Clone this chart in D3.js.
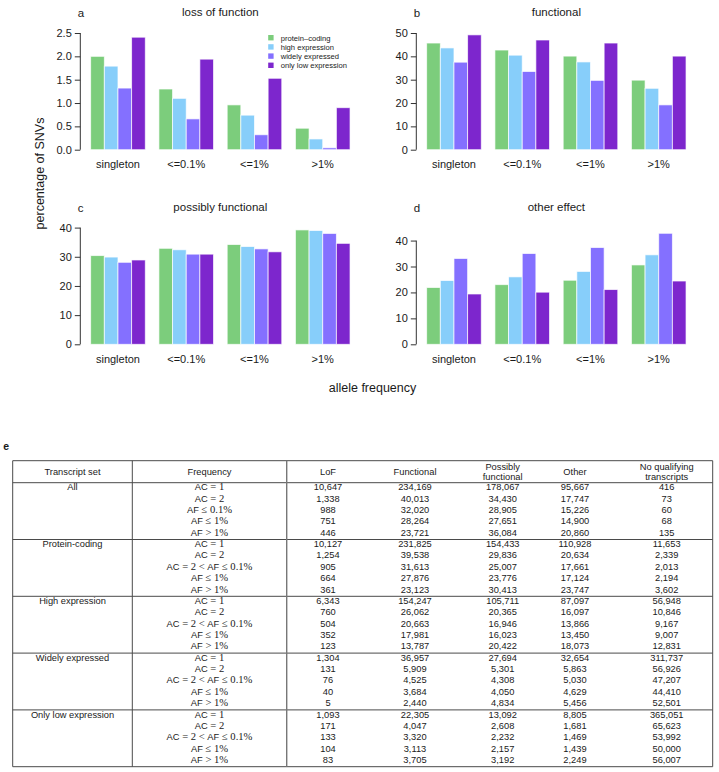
<!DOCTYPE html>
<html>
<head>
<meta charset="utf-8">
<script src="https://cdn.jsdelivr.net/npm/d3@7"></script>
<style>
  html, body { margin: 0; padding: 0; background: #fff; }
  svg { display: block; }
  text { font-family: "Liberation Sans", Arial, Helvetica, sans-serif; fill: #1a1a1a; }
</style>
</head>
<body>
<svg id="chart" width="719" height="772"></svg>
<script>
// ---------------- DATA ----------------
const categories = ["singleton", "<=0.1%", "<=1%", ">1%"];
const seriesNames = ["protein\u2013coding", "high expression", "widely expressed", "only low expression"];
const seriesColors = ["#7CCD7C", "#87CEFA", "#8470FF", "#7D26CD"];

// rows = categories, columns = series (percentage of SNVs)
const lossOfFunction = [
  [2.00, 1.79, 1.32, 2.41],
  [1.30, 1.10, 0.66, 1.94],
  [0.96, 0.74, 0.32, 1.53],
  [0.46, 0.23, 0.04, 0.90]
];
const functional = [
  [45.7, 43.6, 37.5, 49.2],
  [42.7, 40.5, 33.5, 47.0],
  [40.1, 37.6, 29.7, 45.7],
  [29.8, 26.3, 19.2, 40.1]
];
const possiblyFunctional = [
  [30.4, 29.9, 28.1, 28.9],
  [32.9, 32.4, 30.9, 30.9],
  [34.2, 33.5, 32.7, 31.7],
  [39.2, 39.0, 38.0, 34.6]
];
const otherEffect = [
  [21.9, 24.6, 33.1, 19.4],
  [23.0, 26.0, 35.0, 20.1],
  [24.7, 28.1, 37.3, 21.1],
  [30.6, 34.5, 42.8, 24.4]
];

const panelTitles = ["loss of function", "functional", "possibly functional", "other effect"];
const panelLetters = ["a", "b", "c", "d"];
const yLimits = [2.5, 50, 40, 45];
const yTicksA = [0, 0.5, 1.0, 1.5, 2.0, 2.5];
const yTicksB = [0, 10, 20, 30, 40, 50];
const yTicksC = [0, 10, 20, 30, 40];
const yTicksD = [0, 10, 20, 30, 40];

// table
const tableHeaders = [["Transcript set"], ["Frequency"], ["LoF"], ["Functional"], ["Possibly", "functional"], ["Other"], ["No qualifying", "transcripts"]];
const transcriptSets = ["All", "Protein-coding", "High expression", "Widely expressed", "Only low expression"];
const freqLabelsAll = ["AC = 1", "AC = 2", "AF \u2264 0.1%", "AF \u2264 1%", "AF > 1%"];
const freqLabelsOther = ["AC = 1", "AC = 2", "AC = 2 < AF \u2264 0.1%", "AF \u2264 1%", "AF > 1%"];
const countsAll = [
  [10647, 234169, 178067, 95667, 416],
  [1338, 40013, 34430, 17747, 73],
  [988, 32020, 28905, 15226, 60],
  [751, 28264, 27651, 14900, 68],
  [446, 23721, 36084, 20860, 135]
];
const countsProteinCoding = [
  [10127, 231825, 154433, 110928, 11653],
  [1254, 39538, 29836, 20634, 2339],
  [905, 31613, 25007, 17661, 2013],
  [664, 27876, 23776, 17124, 2194],
  [361, 23123, 30413, 23747, 3602]
];
const countsHighExpression = [
  [6343, 154247, 105711, 87097, 56948],
  [760, 26062, 20365, 16097, 10846],
  [504, 20663, 16946, 13866, 9167],
  [352, 17981, 16023, 13450, 9007],
  [123, 13787, 20422, 18073, 12831]
];
const countsWidelyExpressed = [
  [1304, 36957, 27694, 32654, 311737],
  [131, 5909, 5301, 5863, 56926],
  [76, 4525, 4308, 5030, 47207],
  [40, 3684, 4050, 4629, 44410],
  [5, 2440, 4834, 5456, 52501]
];
const countsOnlyLow = [
  [1093, 22305, 13092, 8805, 365051],
  [171, 4047, 2608, 1681, 65623],
  [133, 3320, 2232, 1469, 53992],
  [104, 3113, 2157, 1439, 50000],
  [83, 3705, 3192, 2249, 56007]
];

// ---------------- DRAW ----------------
const svg = d3.select("#chart");

const panelData = [lossOfFunction, functional, possiblyFunctional, otherEffect];
const panelTicks = [yTicksA, yTicksB, yTicksC, yTicksD];
const colLeft = [80.3, 416.3];
const plotW = 280.1;
const zeroY = [149.7, 344.3];
const plotH = 116.7; // pixel span from 0 to y-limit

panelData.forEach((data, p) => {
  const col = p % 2, row = Math.floor(p / 2);
  const left = colLeft[col];
  const unit = plotW / 20.52;
  const x0 = d3.scaleBand().domain(categories)
    .range([left + 0.76 * unit, left + plotW - 0.76 * unit])
    .paddingInner(0.2).paddingOuter(0);
  const x1 = d3.scaleBand().domain(d3.range(seriesNames.length))
    .range([0, x0.bandwidth()]).padding(0);
  const y = d3.scaleLinear().domain([0, yLimits[p]]).range([zeroY[row], zeroY[row] - plotH]);

  const g = svg.append("g");
  const groups = g.selectAll("g.grp").data(data).join("g")
    .attr("transform", (d, i) => `translate(${x0(categories[i])},0)`);
  groups.selectAll("rect").data(d => d).join("rect")
    .attr("x", (d, j) => x1(j))
    .attr("width", x1.bandwidth())
    .attr("y", d => y(d))
    .attr("height", d => y(0) - y(d))
    .attr("fill", (d, j) => seriesColors[j])
    .attr("stroke", "#ffffff")
    .attr("stroke-opacity", 0.75)
    .attr("stroke-width", 0.9);

  // y axis
  const ticks = panelTicks[p];
  const axis = d3.axisLeft(y).tickValues(ticks)
    .tickFormat(p === 0 ? d3.format(".1f") : d3.format("d"))
    .tickSize(5.5).tickPadding(3);
  const ag = g.append("g").attr("transform", `translate(${left},0)`).call(axis);
  ag.select(".domain").remove();
  ag.selectAll("line").attr("stroke", "#333");
  ag.selectAll("text").attr("font-size", 11).attr("fill", "#1a1a1a")
    .attr("font-family", "'Liberation Sans', Arial, sans-serif");
  ag.append("line").attr("x1", 0).attr("x2", 0)
    .attr("y1", y(ticks[0])).attr("y2", y(ticks[ticks.length - 1]))
    .attr("stroke", "#333");

  // category labels
  g.selectAll("text.cat").data(categories).join("text").attr("class", "cat")
    .attr("x", d => x0(d) + x0.bandwidth() / 2)
    .attr("y", zeroY[row] + 18.6)
    .attr("text-anchor", "middle").attr("font-size", 11)
    .text(d => d);

  // title & letter
  g.append("text").attr("x", left + plotW / 2).attr("y", zeroY[row] - 133.7)
    .attr("text-anchor", "middle").attr("font-size", 11.5).text(panelTitles[p]);
  g.append("text").attr("x", left - 2.6).attr("y", zeroY[row] - 132.7)
    .attr("font-size", 11.5).text(panelLetters[p]);

  // legend in panel a
  if (p === 0) {
    const lg = g.append("g");
    seriesNames.forEach((s, j) => {
      const cy = 37.7 + j * 9.2;
      lg.append("rect").attr("x", 268.2).attr("y", cy - 2.7).attr("width", 5.4).attr("height", 5.4)
        .attr("fill", seriesColors[j]);
      lg.append("text").attr("x", 280.7).attr("y", cy + 2.8).attr("font-size", 7.6).text(s);
    });
  }
});

// axis titles
svg.append("text").attr("transform", "translate(43.5,173.5) rotate(-90)")
  .attr("text-anchor", "middle").attr("font-size", 12.5).text("percentage of SNVs");
svg.append("text").attr("x", 372.5).attr("y", 391.5)
  .attr("text-anchor", "middle").attr("font-size", 12.5).text("allele frequency");

// ---------------- TABLE ----------------
const tg = svg.append("g");
tg.append("text").attr("x", 3.3).attr("y", 450).attr("font-size", 10.5).attr("font-weight", "bold").text("e");

const tLeft = 12.7, tRight = 712.7, tTop = 460.7, headBottom = 482.7, groupH = 56.8, rowH = 11.36;
const vLines = [tLeft, 132.3, 286.7, tRight];
const colCenters = [72.5, 209.5, 328, 415, 502.7, 575, 666.7];
const allCounts = [countsAll, countsProteinCoding, countsHighExpression, countsWidelyExpressed, countsOnlyLow];
const tBottom = headBottom + groupH * transcriptSets.length;
const fmt = d3.format(",");

// lines
const hLines = [tTop, headBottom].concat(d3.range(1, transcriptSets.length + 1).map(i => headBottom + i * groupH));
tg.selectAll("line.h").data(hLines).join("line").attr("class", "h")
  .attr("x1", tLeft).attr("x2", tRight).attr("y1", d => d).attr("y2", d => d)
  .attr("stroke", "#4a4a4a").attr("stroke-width", 1);
tg.selectAll("line.v").data(vLines).join("line").attr("class", "v")
  .attr("x1", d => d).attr("x2", d => d).attr("y1", tTop).attr("y2", tBottom)
  .attr("stroke", (d, i) => i === 2 ? "#777" : "#4a4a4a")
  .attr("stroke-width", (d, i) => i === 2 ? 1.4 : 1);

// headers
tableHeaders.forEach((h, i) => {
  const bl = h.length === 1 ? [475] : [470, 479.8];
  h.forEach((line, k) => {
    tg.append("text").attr("x", colCenters[i]).attr("y", bl[k])
      .attr("text-anchor", "middle").attr("font-size", 9.3).text(line);
  });
});

// math-aware label: AC/AF in sans, rest in serif
function mathLabel(sel, str) {
  const parts = str.split(/(AC|AF)/).filter(s => s.length);
  parts.forEach(pt => {
    const isSans = pt === "AC" || pt === "AF";
    sel.append("tspan")
      .attr("font-family", isSans ? "'Liberation Sans', Arial, sans-serif" : "'Liberation Serif', 'Times New Roman', serif")
      .attr("font-size", isSans ? 9.3 : 10.6)
      .style("white-space", "pre")
      .text(pt);
  });
}

transcriptSets.forEach((setName, gi) => {
  const gTop = headBottom + gi * groupH;
  const freqs = gi === 0 ? freqLabelsAll : freqLabelsOther;
  const counts = allCounts[gi];
  tg.append("text").attr("x", colCenters[0]).attr("y", gTop + 7.6)
    .attr("text-anchor", "middle").attr("font-size", 9.3).text(setName);
  freqs.forEach((f, ri) => {
    const by = gTop + 7.6 + ri * rowH;
    const t = tg.append("text").attr("x", colCenters[1]).attr("y", by).attr("text-anchor", "middle");
    mathLabel(t, f);
    counts[ri].forEach((v, ci) => {
      tg.append("text").attr("x", colCenters[ci + 2]).attr("y", by)
        .attr("text-anchor", "middle").attr("font-size", 9.3).text(fmt(v));
    });
  });
});
</script>
</body>
</html>
